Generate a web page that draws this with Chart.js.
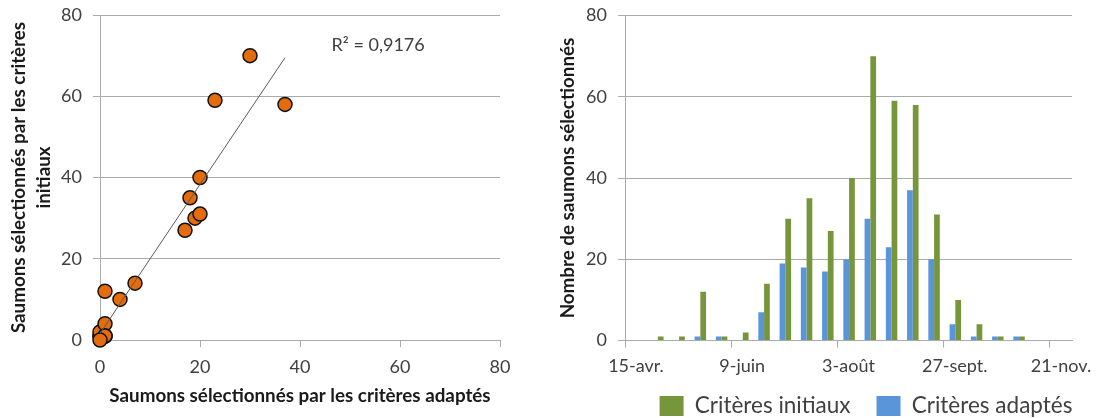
<!DOCTYPE html>
<html>
<head>
<meta charset="utf-8">
<script src="https://cdn.jsdelivr.net/npm/chart.js@4.4.1/dist/chart.umd.min.js"></script>
<style>
  html, body { margin: 0; padding: 0; background: #fff; }
  #wrap { position: relative; width: 1097px; height: 418px; overflow: hidden; }
  #scatter { position: absolute; left: 0; top: 0; }
  #bars { position: absolute; left: 530px; top: 0; }
</style>
</head>
<body>
<div id="wrap">
  <canvas id="scatter" width="530" height="418"></canvas>
  <canvas id="bars" width="567" height="418"></canvas>
</div>
<script>
// jours depuis le 15 avril, une barre par période
const periodDays = [17, 28, 39, 50, 61, 72, 83, 94, 105, 116, 127, 138, 149, 160, 171, 182, 193, 204, 215];
const initialCounts = [1, 1, 12, 1, 2, 14, 30, 35, 27, 40, 70, 59, 58, 31, 10, 4, 1, 1, 0];
const adaptedCounts = [0, 0, 1, 1, 0, 7, 19, 18, 17, 20, 30, 23, 37, 20, 4, 1, 1, 1, 0];

const tickDays = [0, 55, 110, 165, 220];
const dateLabels = ["15-avr.", "9-juin", "3-août", "27-sept.", "21-nov."];

// courbe de tendance
const trendX = [0, 37];
const trendY = [1.6, 69.5];
const r2Text = "R² = 0,9176";
const r2Pos = [46.3, 72.6];

const gridGray = "#ababab";
const textGray = "#404040";
const titleColor = "#1a1a1a";

Chart.defaults.font.family = "Lato, 'Open Sans', sans-serif";
Chart.defaults.color = textGray;
Chart.defaults.animation = false;

const r2Label = {
  id: "r2Label",
  afterDatasetsDraw(chart) {
    const { ctx, scales } = chart;
    ctx.save();
    ctx.font = "18px Lato";
    ctx.fillStyle = textGray;
    ctx.textBaseline = "middle";
    ctx.fillText(r2Text, scales.x.getPixelForValue(r2Pos[0]), scales.y.getPixelForValue(r2Pos[1]));
    ctx.restore();
  },
};

// déplace la légende sous le graphique de droite
const legendShift = {
  id: "legendShift",
  afterLayout(chart) {
    const l = chart.legend;
    l.left += 65;
    l.right += 65;
    l.top -= 8.8;
    l.bottom -= 8.8;
  },
};

// les étiquettes de l'axe y ne doivent pas repousser la zone de tracé
function fixY(width) {
  return (s) => {
    s.width = width;
    s.paddingTop = 0;
    s.paddingBottom = 0;
  };
}

new Chart(document.getElementById("scatter"), {
  type: "scatter",
  data: {
    datasets: [
      {
        type: "line",
        data: trendX.map((v, i) => ({ x: v, y: trendY[i] })),
        borderColor: "#5a5a5a",
        borderWidth: 1,
        pointRadius: 0,
        fill: false,
        clip: false,
      },
      {
        data: adaptedCounts.map((v, i) => ({ x: v, y: initialCounts[i] })),
        backgroundColor: "#e46c0a",
        borderColor: "#111111",
        borderWidth: 1.5,
        pointRadius: 7,
        clip: false,
      },
    ],
  },
  options: {
    responsive: false,
    events: [],
    layout: { padding: { left: 0, top: 15, right: 30, bottom: 0 } },
    plugins: { legend: { display: false }, tooltip: { enabled: false } },
    scales: {
      x: {
        type: "linear",
        min: 0,
        max: 80,
        afterFit: (s) => { s.height = 78; },
        ticks: { stepSize: 20, padding: 9.7, font: { size: 18 }, color: textGray },
        grid: { drawOnChartArea: false, tickLength: 7, color: gridGray },
        border: { color: gridGray },
        title: {
          display: true,
          text: "Saumons sélectionnés par les critères adaptés",
          color: titleColor,
          font: { size: 18.8, weight: "bold" },
          padding: { top: 0, bottom: 10.4 },
        },
      },
      y: {
        min: 0,
        max: 80,
        afterFit: fixY(100),
        ticks: { stepSize: 20, padding: 11, font: { size: 18 }, color: textGray },
        grid: { tickLength: 7, color: gridGray },
        border: { color: gridGray },
        title: {
          display: true,
          text: ["Saumons sélectionnés par les critères", "initiaux"],
          color: titleColor,
          font: { size: 18.8, weight: "bold", lineHeight: 1.36 },
          padding: { top: 5.8, bottom: 0 },
        },
      },
    },
  },
  plugins: [r2Label],
});

new Chart(document.getElementById("bars"), {
  type: "bar",
  data: {
    datasets: [
      {
        label: "Critères adaptés",
        data: periodDays.map((d, i) => ({ x: d, y: adaptedCounts[i] })),
        backgroundColor: "#5b95d9",
        borderWidth: 0,
      },
      {
        label: "Critères initiaux",
        data: periodDays.map((d, i) => ({ x: d, y: initialCounts[i] })),
        backgroundColor: "#77963c",
        borderWidth: 0,
      },
    ],
  },
  options: {
    responsive: false,
    events: [],
    categoryPercentage: 0.54,
    barPercentage: 1,
    layout: { padding: { left: 0, top: 15.5, right: 25, bottom: -18.1 } },
    plugins: {
      tooltip: { enabled: false },
      legend: {
        position: "bottom",
        align: "center",
        labels: {
          boxWidth: 24,
          boxHeight: 20,
          padding: 26,
          color: textGray,
          font: { size: 22.5 },
          sort: (a, b) => b.datasetIndex - a.datasetIndex,
        },
      },
    },
    scales: {
      x: {
        type: "linear",
        offset: false,
        min: 0,
        max: 231.4,
        afterFit: (s) => { s.height = 37; },
        afterBuildTicks: (s) => { s.ticks = tickDays.map((v) => ({ value: v })); },
        ticks: {
          padding: 8,
          labelOffset: 11,
          font: { size: 18 },
          color: textGray,
          callback: (v) => dateLabels[tickDays.indexOf(v)],
        },
        grid: { offset: false, drawOnChartArea: false, tickLength: 7, color: gridGray },
        border: { color: gridGray },
      },
      y: {
        min: 0,
        max: 80,
        afterFit: fixY(95),
        ticks: { stepSize: 20, padding: 11, font: { size: 18 }, color: textGray },
        grid: { tickLength: 7, color: gridGray },
        border: { color: gridGray },
        title: {
          display: true,
          text: "Nombre de saumons sélectionnés",
          color: titleColor,
          font: { size: 18.8, weight: "bold" },
          padding: { top: 26.2, bottom: 0 },
        },
      },
    },
  },
  plugins: [legendShift],
});
</script>
</body>
</html>
